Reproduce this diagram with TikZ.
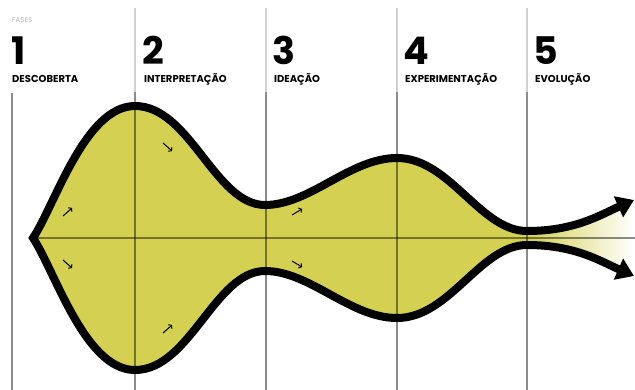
\documentclass[tikz,border=0pt]{standalone}
\usepackage{fontspec}
\setmainfont{Poppins}
\usetikzlibrary{arrows.meta}
\definecolor{fillc}{RGB}{212,209,82}
\definecolor{faseg}{RGB}{180,180,180}
\begin{document}
\begin{tikzpicture}[x=1pt,y=-1pt,
  num/.style={anchor=base west, inner sep=0pt, font=\fontsize{38}{38}\selectfont\bfseries},
  lab/.style={anchor=base west, inner sep=0pt, font=\fontsize{10}{11}\selectfont\bfseries},
  gridtop/.style={black, opacity=0.18, line width=1.1pt},
  gridlow/.style={black, opacity=0.45, line width=1.2pt},
  outline/.style={line width=8pt, line join=miter},
  mini/.style={line width=1pt, -{To[length=3pt,width=6pt]}}
]
\useasboundingbox (0,0) rectangle (635,390);
% body fill
\fill[fillc] (33,238) .. controls (55,205) and (85,106) .. (135,106)
  .. controls (190,106) and (215,205) .. (265,205)
  .. controls (310,205) and (350,158) .. (397,158)
  .. controls (450,158) and (480,231) .. (527,231)
  -- (527,245)
  .. controls (480,245) and (450,318) .. (397,318)
  .. controls (350,318) and (310,271) .. (265,271)
  .. controls (215,271) and (190,370) .. (135,370)
  .. controls (85,370) and (55,271) .. cycle;
\shade[left color=fillc, right color=white] (527,231) .. controls (575,231) and (600,215) .. (633,200)
  -- (633,276) .. controls (600,261) and (575,245) .. (527,245) -- cycle;
% grid
\foreach \x in {135,266,397,527} {
  \draw[gridtop] (\x,8) -- (\x,92);
  \draw[gridlow] (\x,92) -- (\x,390);
}
\draw[gridlow] (12,93) -- (12,390);
\draw[gridlow] (33,238) -- (635,238);
% outline
\draw[outline, {Triangle[length=17pt,width=22pt]}-{Triangle[length=17pt,width=22pt]}]
  (634,200) .. controls (600,215) and (575,231) .. (527,231)
  .. controls (480,231) and (450,158) .. (397,158)
  .. controls (350,158) and (310,205) .. (265,205)
  .. controls (215,205) and (190,106) .. (135,106)
  .. controls (85,106) and (55,205) .. (33,238)
  .. controls (55,271) and (85,370) .. (135,370)
  .. controls (190,370) and (215,271) .. (265,271)
  .. controls (310,271) and (350,318) .. (397,318)
  .. controls (450,318) and (480,245) .. (527,245)
  .. controls (575,245) and (600,261) .. (634,276);
% small direction arrows
\draw[mini] (63,216) -- (72,208);
\draw[mini] (63,260) -- (72,268);
\draw[mini] (163,143) -- (172,151);
\draw[mini] (163,333) -- (172,325);
\draw[mini] (292,215) -- (302,209);
\draw[mini] (292,261) -- (302,267);
% header
\node[anchor=base west, inner sep=0pt, text=faseg, font=\fontsize{7}{8}\selectfont] (fases) at (12,23) {FASES};
\node[num] (n1) at (11,65) {1};
\node[num] (n2) at (142,65) {2};
\node[num] (n3) at (272,65) {3};
\node[num] (n4) at (403,65) {4};
\node[num] (n5) at (533,65) {5};
\node[lab] (l1) at (12,83) {DESCOBERTA};
\node[lab] (l2) at (144,83) {INTERPRETAÇÃO};
\node[lab] (l3) at (274,83) {IDEAÇÃO};
\node[lab] (l4) at (405,83) {EXPERIMENTAÇÃO};
\node[lab] (l5) at (535,83) {EVOLUÇÃO};
\end{tikzpicture}
\end{document}
